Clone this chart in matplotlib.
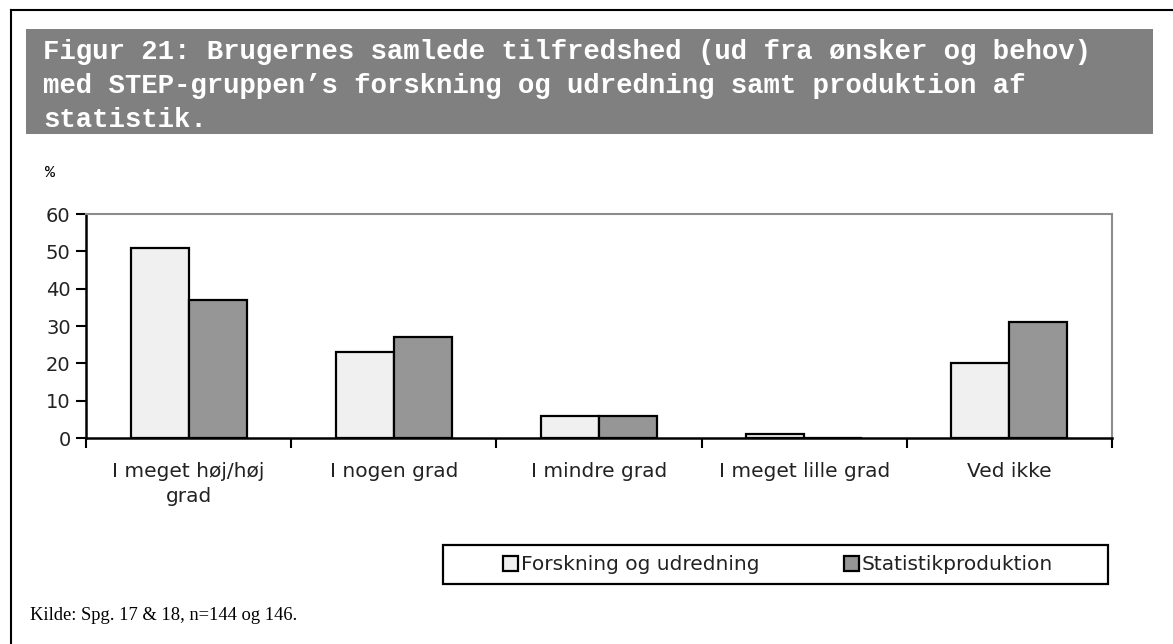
import matplotlib.pyplot as plt
import numpy as np
from matplotlib.patches import Rectangle
from matplotlib.lines import Line2D

categories = ["I meget høj/høj\ngrad", "I nogen grad", "I mindre grad",
              "I meget lille grad", "Ved ikke"]
forskning = [51, 23, 6, 1, 20]
statistik = [37, 27, 6, 0, 31]
series_names = ["Forskning og udredning", "Statistikproduktion"]
yticks = [0, 10, 20, 30, 40, 50, 60]

title = ("Figur 21: Brugernes samlede tilfredshed (ud fra ønsker og behov)\n"
         "med STEP-gruppen\u2019s forskning og udredning samt produktion af\n"
         "statistik.")
source = "Kilde: Spg. 17 & 18, n=144 og 146."

W, H = 1173, 644
fig = plt.figure(figsize=(W / 100, H / 100), dpi=100)

def fx(px):
    return px / W

def fy(py):
    return 1 - py / H

# outer frame (only left/top visible in the original)
fig.add_artist(Line2D([fx(11), fx(11)], [fy(10), 0], color='black', lw=1.5))
fig.add_artist(Line2D([fx(11), 1], [fy(10), fy(10)], color='black', lw=1.5))

# title box
fig.add_artist(Rectangle((fx(26), fy(134)), fx(1153) - fx(26), fy(29) - fy(134),
                         facecolor='#808080', edgecolor='none'))
fig.text(fx(43), fy(86), title, color='white', fontsize=19.7, fontweight='bold',
         family='Liberation Mono', va='center', ha='left', linespacing=1.42)

fig.text(fx(50), fy(173), "%", fontsize=12, family='Liberation Mono',
         ha='center', va='center')

ax = fig.add_axes([fx(86), fy(438), fx(1112) - fx(86), fy(214) - fy(438)])

x = np.arange(len(categories))
w = 0.283
ax.bar(x - w / 2, forskning, w, color='#F0F0F0', edgecolor='black', lw=1.6,
       label=series_names[0])
ax.bar(x + w / 2, statistik, w, color='#969696', edgecolor='black', lw=1.6,
       label=series_names[1])

ax.set_xlim(-0.5, len(categories) - 0.5)
ax.set_ylim(0, 60)
ax.set_yticks(yticks)
ax.set_yticklabels([str(v) for v in yticks], fontsize=14, family='DejaVu Sans',
                   color='#222222')
ax.set_xticks(np.arange(len(categories) + 1) - 0.5)
ax.set_xticklabels([])
ax.set_xticks(x, minor=True)
ax.set_xticklabels(categories, minor=True, fontsize=14.5, family='DejaVu Sans',
                   color='#222222', linespacing=1.45)
ax.tick_params(axis='x', which='minor', length=0, pad=17)
ax.tick_params(axis='x', which='major', length=7, width=1.5, direction='out')
ax.tick_params(axis='y', length=7, width=1.5, direction='out', pad=4)
for s in ['left', 'bottom']:
    ax.spines[s].set_linewidth(1.8)
for s in ['top', 'right']:
    ax.spines[s].set_color('#8c8c8c')
    ax.spines[s].set_linewidth(1.5)

# legend frame drawn separately, entries centred inside it
fig.add_artist(Rectangle((fx(443), fy(584)), fx(1108) - fx(443), fy(545) - fy(584),
                         facecolor='white', edgecolor='black', lw=1.6))
leg = fig.legend(loc='center', bbox_to_anchor=(fx(778), fy(565)),
                 ncol=2, frameon=False, fontsize=14.5,
                 handlelength=0.75, handleheight=0.75, handletextpad=0.15,
                 borderpad=0, columnspacing=4.2)
for t in leg.get_texts():
    t.set_color('#222222')

fig.text(fx(30), fy(615), source, fontsize=13.3, family='Liberation Serif',
         ha='left', va='center')

fig.savefig("out.png", dpi=100)
